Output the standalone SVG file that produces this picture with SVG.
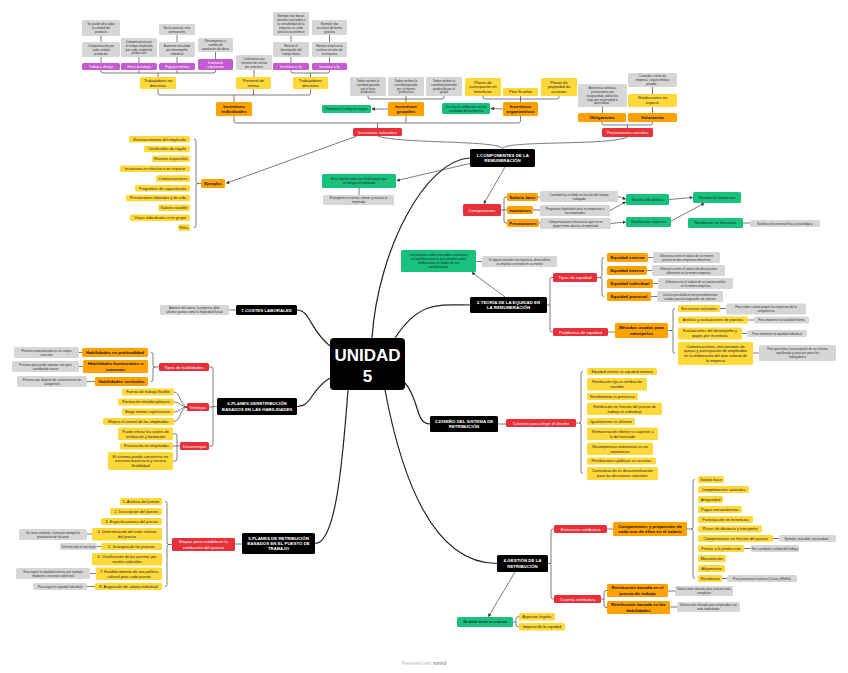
<svg xmlns="http://www.w3.org/2000/svg" width="848" height="673" viewBox="0 0 848 673">
<style>
text{font-family:"Liberation Sans",Arial,sans-serif;text-anchor:middle}
rect{rx:1.5px}
.g rect{fill:#d6d6d6}.g text{font-size:3.1px;fill:#333}
.y rect{fill:#ffd83a}.y text{font-size:3.9px;fill:#222}
.o rect{fill:#ffa200}.o text{font-size:4.4px;font-weight:bold;fill:#111}
.r rect{fill:#e8303a}.r text{font-size:4.3px;fill:#fff}
.k rect{fill:#000}.k text{font-size:4.4px;font-weight:bold;fill:#fff}
.gn rect{fill:#19c27c}.gn text{font-size:3.1px;fill:#123}
.gn2 rect{fill:#19c27c}.gn2 text{font-size:3.8px;fill:#123}
.p rect{fill:#c55bd0}.p text{font-size:3.1px;fill:#fff}
#conn path{fill:none;stroke:#444;stroke-width:0.7}
#conn .m{stroke:#222;stroke-width:1.2}
#conn .a{marker-end:url(#ar)}
</style>
<defs>
<marker id="ar" viewBox="0 0 6 6" refX="5" refY="3" markerWidth="3.5" markerHeight="3.5" markerUnits="userSpaceOnUse" orient="auto"><path d="M0,0 L6,3 L0,6 z" fill="#333"/></marker>
</defs>
<rect width="848" height="673" fill="#fff" rx="0"/>
<g id="conn">
<path class="m" d="M372,338 C378,250 425,160 470,158"/>
<path class="m" d="M395,338 C420,300 440,305 470,305"/>
<path class="m" d="M330,346 C310,330 310,310 297,310"/>
<path class="m" d="M330,378 C310,390 312,406.5 297,406.5"/>
<path class="m" d="M405,383 C420,400 415,424 430,424"/>
<path class="m" d="M348,390 C342,470 335,543.5 315,543.5"/>
<path class="m" d="M385,390 C400,470 430,563.5 497,563.5"/>
<path d="M502.5,149 C502.5,140 400,144 377.5,136"/>
<path d="M502.5,149 C502.5,140 610,146 627.5,137"/>
<path d="M101,36 V42 M101,57 V63 M139,57 V63 M177,35 V42 M177,57 V63 M215.5,52 V59 M291,36 V42 M291,57 V63 M329.5,35 V42 M329.5,57 V63"/>
<path d="M101,70 V71 Q101,73 103,73 H213.5 Q215.5,73 215.5,71 V70 M139,70 V73 M177,70 V73 M158,73 V77"/>
<path d="M291,70 V71 Q291,73 293,73 H327.5 Q329.5,73 329.5,71 V70 M310.5,73 V77 M254,70 V77"/>
<path d="M158,89 V93 Q158,95 160,95 H308.5 Q310.5,95 310.5,93 V89 M253.5,89 V95 M234,95 V102"/>
<path d="M368,96 V97 Q368,99 370,99 H442 Q444,99 444,97 V96 M406,96 V102"/>
<path d="M483,96 V97 Q483,99 485,99 H557 Q559,99 559,97 V96 M520.5,96 V102"/>
<path d="M234,116 V121 Q234,123 236,123 H518.5 Q520.5,123 520.5,121 V116 M406,116 V123 M377.5,123 V128"/>
<path d="M602.5,107 V113 M652.5,87 V94 M652.5,107 V113 M602,122 V123 Q602,125 604,125 H650.5 Q652.5,125 652.5,123 V122 M627.5,125 V128"/>
<path class="a" d="M388,109 L372,109"/>
<path class="a" d="M503,109 L491,108.5"/>
<path class="a" d="M357,136 L226.5,183.2"/>
<path d="M194,139.25 Q196,139.25 196,141.25 V181.5 Q196,183.5 198,183.5 Q196,183.5 196,185.5 V225.5 Q196,227.5 194,227.5 M198,183.5 H201"/>
<path class="a" d="M472,163 L397,180.5"/>
<path d="M359,188 V195"/>
<path class="a" d="M505,167 L484,203.5"/>
<path d="M507,197 H506 Q504,197 504,199 V221 Q504,223 506,223 H507 M501,210 H507 M538,197 H540 M533,210 H540 M539,223 H540"/>
<path class="a" d="M618,196.5 L625.5,199"/>
<path class="a" d="M610,210.5 L625.5,202"/>
<path class="a" d="M611,223.5 L625.5,222"/>
<path class="a" d="M669,199.5 L692.5,197.5"/>
<path class="a" d="M671,221 L704,203.5"/>
<path d="M743,223 H750"/>
<path class="a" d="M505,297 L472,272.5"/>
<path d="M476,261.5 H482"/>
<path d="M547,305 H550 M553,277.5 H552 Q550,277.5 550,279.5 V330 Q550,332 552,332 H553"/>
<path d="M604,257.5 Q602,257.5 602,259.5 V275.5 Q602,277.5 600,277.5 Q602,277.5 602,279.5 V294.5 Q602,296.5 604,296.5 M597,277.5 H600"/>
<path d="M648,257.5 H653 M647,270.5 H652 M653,283.5 H658 M651,296.5 H657"/>
<path d="M608,332 H615"/>
<path d="M675,308.5 Q673,308.5 673,310.5 V328.5 Q673,330.5 671,330.5 Q673,330.5 673,332.5 V351.5 Q673,353.5 675,353.5 M668,330.5 H671"/>
<path d="M720,308.5 H726 M748,320 H754 M742,333.5 H747 M753,353 H759"/>
<path d="M498,424 H506"/>
<path d="M583,371.5 Q581,371.5 581,373.5 V421 Q581,423 579,423 Q581,423 581,425 V471.5 Q581,473.5 583,473.5 M576,423 H579"/>
<path d="M548,563.5 H551 M554,529 H553 Q551,529 551,531 V597 Q551,599 553,599 H554"/>
<path d="M607,529 H613"/>
<path d="M695,479.5 Q693,479.5 693,481.5 V527 Q693,529 691,529 Q693,529 693,531 V576.5 Q693,578.5 695,578.5 M687,529 H691"/>
<path d="M773,538.5 H779 M744,548.5 H751 M722,578.5 H727"/>
<path d="M601,599 H604 M607,590.5 H606 Q604,590.5 604,592.5 V605.5 Q604,607.5 606,607.5 H607 M668,591 H675 M670,607 H677"/>
<path class="a" d="M515,572 L488.5,616.5"/>
<path d="M513,622 H516 M519,616.75 H518 Q516,616.75 516,618.75 V624.75 Q516,626.75 518,626.75 H519"/>
<path d="M235,544 H242"/>
<path d="M165,501.5 Q167,501.5 167,503.5 V542.5 Q167,544.5 169,544.5 Q167,544.5 167,546.5 V584.5 Q167,586.5 165,586.5 M172,544.5 H169"/>
<path d="M87,534 H92 M97,546.5 H101 M90,573.5 H96 M87,586.5 H95"/>
<path d="M217,406.5 H213 M209,367 H211 Q213,367 213,369 V444 Q213,446 211,446 H209 M213,407 H209"/>
<path d="M151,352.5 Q153,352.5 153,354.5 V365 Q153,367 155,367 Q153,367 153,369 V379.5 Q153,381.5 151,381.5 M159,367 H155"/>
<path d="M79,352.5 H82 M79,366.5 H83 M87,381.5 H95"/>
<path d="M187,407 C181,407 180,392 174,392 M187,407 C181,407 180,402 174,402 M187,407 C181,407 180,412 174,412 M187,407 C181,407 180,421.5 174,421.5"/>
<path d="M180,446 H177 M173,433.75 H175 Q177,433.75 177,435.75 V459 Q177,461 175,461 H173 M173,446 H177"/>
<path d="M229,310 H236"/>
</g>

<g id="unidad5" class="k"><rect x="330" y="338" width="75" height="52" style="rx:4px"/><text x="367.5" y="361" style="font-size:17px">UNIDAD</text><text x="367.5" y="382" style="font-size:17px">5</text></g>

<!-- top: incentivos individuales -->
<g id="n-desc" class="g"><rect x="82" y="20" width="38" height="16"/><text x="101" y="25.2"><tspan x="101">Se puede descuidar</tspan><tspan x="101" dy="3.9">la calidad del</tspan><tspan x="101" dy="3.9">producto</tspan></text></g>
<g id="n-cunidad" class="g"><rect x="82" y="42" width="38" height="15"/><text x="101" y="46.7"><tspan x="101">Compensación por</tspan><tspan x="101" dy="3.9">cada unidad</tspan><tspan x="101" dy="3.9">producida</tspan></text></g>
<g id="n-destajo" class="p"><rect x="82" y="63" width="38" height="7"/><text x="101" y="67.6">Trabajo a destajo</text></g>
<g id="n-ctiempo" class="g"><rect x="121" y="38" width="36" height="19"/><text x="139" y="42.75"><tspan x="139">Compensación por</tspan><tspan x="139" dy="3.9">el tiempo empleado</tspan><tspan x="139" dy="3.9">por cada unidad de</tspan><tspan x="139" dy="3.9">producción</tspan></text></g>
<g id="n-horas" class="p"><rect x="121" y="63" width="36" height="7"/><text x="139" y="67.6">Horas de trabajo</text></g>
<g id="n-puntual" class="g"><rect x="159" y="24" width="36" height="11"/><text x="177" y="28.65"><tspan x="177">No es puntual, sino</tspan><tspan x="177" dy="3.9">permanente</tspan></text></g>
<g id="n-aumento" class="g"><rect x="159" y="42" width="36" height="15"/><text x="177" y="46.7"><tspan x="177">Aumento vinculado</tspan><tspan x="177" dy="3.9">por desempeño</tspan><tspan x="177" dy="3.9">individual</tspan></text></g>
<g id="n-meritos" class="p"><rect x="159" y="63" width="36" height="7"/><text x="177" y="67.6">Pago por méritos</text></g>
<g id="n-recompensa" class="g"><rect x="198" y="38" width="35" height="14"/><text x="215.5" y="42.2"><tspan x="215.5">Recompensa a</tspan><tspan x="215.5" dy="3.9">cambio de</tspan><tspan x="215.5" dy="3.9">aportación de ideas</tspan></text></g>
<g id="n-sugerencias" class="p"><rect x="198" y="59" width="35" height="11"/><text x="215.5" y="63.65"><tspan x="215.5">Sistema de</tspan><tspan x="215.5" dy="3.9">sugerencias</tspan></text></g>
<g id="n-comisiones" class="g"><rect x="236" y="55" width="36" height="15"/><text x="254" y="59.7"><tspan x="254">Comisiones por</tspan><tspan x="254" dy="3.9">volumen de ventas</tspan><tspan x="254" dy="3.9">por intereses</tspan></text></g>
<g id="n-bonos" class="g"><rect x="273" y="12" width="36" height="24"/><text x="291" y="17.3"><tspan x="291">Ejemplo: dar bonos</tspan><tspan x="291" dy="3.9">anuales asociados a</tspan><tspan x="291" dy="3.9">la rentabilidad de la</tspan><tspan x="291" dy="3.9">empresa en cada</tspan><tspan x="291" dy="3.9">ejercicio económico</tspan></text></g>
<g id="n-motivard" class="g"><rect x="273" y="42" width="36" height="15"/><text x="291" y="46.7"><tspan x="291">Motivar el</tspan><tspan x="291" dy="3.9">desempeño del</tspan><tspan x="291" dy="3.9">trabajo diario</tspan></text></g>
<g id="n-icp" class="p"><rect x="273" y="63" width="36" height="7"/><text x="291" y="67.6">Incentivos a c/p</text></g>
<g id="n-acciones" class="g"><rect x="312" y="20" width="35" height="15"/><text x="329.5" y="24.7"><tspan x="329.5">Ejemplo: dar</tspan><tspan x="329.5" dy="3.9">acciones de forma</tspan><tspan x="329.5" dy="3.9">gratuita</tspan></text></g>
<g id="n-motivare" class="g"><rect x="312" y="42" width="35" height="15"/><text x="329.5" y="46.7"><tspan x="329.5">Motivar al ejecutivo</tspan><tspan x="329.5" dy="3.9">a elevar el valor de</tspan><tspan x="329.5" dy="3.9">la empresa</tspan></text></g>
<g id="n-ilp" class="p"><rect x="312" y="63" width="35" height="7"/><text x="329.5" y="67.6">Incentivos a l/p</text></g>
<g id="n-tnd" class="y"><rect x="140" y="77" width="36" height="12"/><text x="158" y="81.95"><tspan x="158">Trabajadores no</tspan><tspan x="158" dy="4.8">directivos</tspan></text></g>
<g id="n-pventas" class="y"><rect x="236" y="77" width="35" height="12"/><text x="253.5" y="81.95"><tspan x="253.5">Personal de</tspan><tspan x="253.5" dy="4.8">ventas</tspan></text></g>
<g id="n-td" class="y"><rect x="293" y="77" width="35" height="12"/><text x="310.5" y="81.95"><tspan x="310.5">Trabajadores</tspan><tspan x="310.5" dy="4.8">directivos</tspan></text></g>
<g id="n-iind" class="o"><rect x="216" y="102" width="36" height="14"/><text x="234" y="107.85"><tspan x="234">Incentivos</tspan><tspan x="234" dy="5.4">individuales</tspan></text></g>

<!-- grupales -->
<g id="n-gmas" class="g"><rect x="350" y="77" width="36" height="19"/><text x="368" y="81.75"><tspan x="368">Todos reciben la</tspan><tspan x="368" dy="3.9">cantidad ganada</tspan><tspan x="368" dy="3.9">por el más</tspan><tspan x="368" dy="3.9">productivo</tspan></text></g>
<g id="n-gmenos" class="g"><rect x="388" y="77" width="36" height="19"/><text x="406" y="81.75"><tspan x="406">Todos reciben la</tspan><tspan x="406" dy="3.9">cantidad ganada</tspan><tspan x="406" dy="3.9">por el menos</tspan><tspan x="406" dy="3.9">productivo</tspan></text></g>
<g id="n-gprom" class="g"><rect x="426" y="77" width="36" height="19"/><text x="444" y="81.75"><tspan x="444">Todos reciben la</tspan><tspan x="444" dy="3.9">cantidad promedio</tspan><tspan x="444" dy="3.9">producida por el</tspan><tspan x="444" dy="3.9">grupo</tspan></text></g>
<g id="n-igrup" class="o"><rect x="388" y="102" width="36" height="14"/><text x="406" y="107.85"><tspan x="406">Incentivos</tspan><tspan x="406" dy="5.4">grupales</tspan></text></g>
<g id="n-ggrup" class="gn"><rect x="322" y="105" width="49" height="8"/><text x="346.5" y="110.1">Fomentan el trabajo en equipo</text></g>

<!-- organizativos -->
<g id="n-ppb" class="y"><rect x="465" y="78" width="36" height="18"/><text x="483" y="83.55"><tspan x="483">Planes de</tspan><tspan x="483" dy="4.8">participación en</tspan><tspan x="483" dy="4.8">beneficios</tspan></text></g>
<g id="n-scanlon" class="y"><rect x="503" y="88" width="35" height="8"/><text x="520.5" y="93.35">Plan Scanlon</text></g>
<g id="n-ppa" class="y"><rect x="541" y="78" width="36" height="18"/><text x="559" y="83.55"><tspan x="559">Planes de</tspan><tspan x="559" dy="4.8">propiedad de</tspan><tspan x="559" dy="4.8">acciones</tspan></text></g>
<g id="n-iorg" class="o"><rect x="503" y="102" width="35" height="14"/><text x="520.5" y="107.85"><tspan x="520.5">Incentivos</tspan><tspan x="520.5" dy="5.4">organizativos</tspan></text></g>
<g id="n-gorg" class="gn"><rect x="442" y="103" width="48" height="11"/><text x="466" y="107.65"><tspan x="466">Vinculan la retribución con los</tspan><tspan x="466" dy="3.9">resultados de la empresa</tspan></text></g>

<!-- prestaciones -->
<g id="n-asist" class="g"><rect x="578" y="84" width="49" height="23"/><text x="602.5" y="88.8"><tspan x="602.5">Asistencia sanitaria,</tspan><tspan x="602.5" dy="3.9">prestaciones por</tspan><tspan x="602.5" dy="3.9">incapacidad, jubilación,</tspan><tspan x="602.5" dy="3.9">baja por maternidad o</tspan><tspan x="602.5" dy="3.9">paternidad...</tspan></text></g>
<g id="n-comedor" class="g"><rect x="628" y="73" width="49" height="14"/><text x="652.5" y="77.2"><tspan x="652.5">Comedor, coche de</tspan><tspan x="652.5" dy="3.9">empresa, seguro médico</tspan><tspan x="652.5" dy="3.9">privado...</tspan></text></g>
<g id="n-especie" class="y"><rect x="628" y="94" width="49" height="13"/><text x="652.5" y="99.45"><tspan x="652.5">Retribuciones en</tspan><tspan x="652.5" dy="4.8">especie</tspan></text></g>
<g id="n-oblig" class="o"><rect x="578" y="113" width="48" height="9"/><text x="602" y="119.05">Obligatorias</text></g>
<g id="n-volunt" class="o"><rect x="628" y="113" width="49" height="9"/><text x="652.5" y="119.05">Voluntarias</text></g>
<g id="n-prest" class="r"><rect x="602" y="128" width="51" height="9"/><text x="627.5" y="134">Prestaciones sociales</text></g>
<g id="n-isal" class="r"><rect x="353" y="128" width="49" height="8"/><text x="377.5" y="133.5">Incentivos salariales</text></g>

<!-- ejemplos -->
<g id="n-ejemplos" class="o"><rect x="201" y="179" width="24" height="9"/><text x="213" y="185" style="font-size:3.9px">Ejemplos</text></g>
<g id="e1" class="y"><rect x="129" y="136" width="61" height="6.5"/><text x="159.5" y="140.6">Reconocimiento del empleado</text></g>
<g id="e2" class="y"><rect x="144" y="145.8" width="46" height="6.5"/><text x="167" y="150.4">Certificados de regalo</text></g>
<g id="e3" class="y"><rect x="152" y="155.6" width="38" height="6.5"/><text x="171" y="160.2">Eventos especiales</text></g>
<g id="e4" class="y"><rect x="120" y="165.4" width="70" height="6.5"/><text x="155" y="170">Incentivos en efectivo o en especie</text></g>
<g id="e5" class="y"><rect x="156" y="175.2" width="34" height="6.5"/><text x="173" y="179.8">Comunicaciones</text></g>
<g id="e6" class="y"><rect x="135" y="185" width="55" height="6.5"/><text x="162.5" y="189.6">Programas de capacitación</text></g>
<g id="e7" class="y"><rect x="126" y="194.8" width="64" height="6.5"/><text x="158" y="199.4">Prestaciones laborales y de vida</text></g>
<g id="e8" class="y"><rect x="158" y="204.6" width="32" height="6.5"/><text x="174" y="209.2">Salario variable</text></g>
<g id="e9" class="y"><rect x="130" y="214.4" width="60" height="6.5"/><text x="160" y="219">Viajes individuales o en grupo</text></g>
<g id="e10" class="y"><rect x="178" y="224.2" width="12" height="6.5"/><text x="184" y="228.8">Rifas</text></g>

<!-- 1 componentes -->
<g id="n-1" class="k"><rect x="470" y="149" width="65" height="18"/><text x="502.5" y="156.85"><tspan x="502.5">1-COMPONENTES DE LA</tspan><tspan x="502.5" dy="5.4">REMUNERACIÓN</tspan></text></g>
<g id="n-total" class="gn"><rect x="322" y="174" width="74" height="14"/><text x="359" y="180.15"><tspan x="359">Es el total de todas las retribuciones que</tspan><tspan x="359" dy="3.9">se otorgan al empleado</tspan></text></g>
<g id="n-proposito" class="g"><rect x="323" y="195" width="71" height="10"/><text x="358.5" y="199.15"><tspan x="358.5">El propósito es atraer, retener y motivar al</tspan><tspan x="358.5" dy="3.9">empleado</tspan></text></g>
<g id="n-comp" class="r"><rect x="463" y="204" width="38" height="12"/><text x="482" y="211.5">Componentes</text></g>
<g id="n-sbase" class="o"><rect x="507" y="193" width="31" height="8"/><text x="522.5" y="198.55">Salario base</text></g>
<g id="n-incent" class="o"><rect x="507" y="206" width="26" height="8"/><text x="520" y="211.55">Incentivos</text></g>
<g id="n-prestac" class="o"><rect x="507" y="219" width="32" height="8"/><text x="523" y="224.55">Prestaciones</text></g>
<g id="n-cfija" class="g"><rect x="540" y="191" width="78" height="11"/><text x="579" y="195.65"><tspan x="579">Cantidad fija recibida en función del tiempo</tspan><tspan x="579" dy="3.9">trabajado</tspan></text></g>
<g id="n-progr" class="g"><rect x="540" y="205" width="70" height="11"/><text x="575" y="209.65"><tspan x="575">Programas diseñados para recompensar a</tspan><tspan x="575" dy="3.9">los empleados</tspan></text></g>
<g id="n-compf" class="g"><rect x="540" y="218" width="71" height="11"/><text x="575.5" y="222.65"><tspan x="575.5">Compensaciones financieras que no se</tspan><tspan x="575.5" dy="3.9">pagan forma directa al empleado</tspan></text></g>
<g id="n-rdir" class="gn2"><rect x="626" y="194" width="43" height="11"/><text x="647.5" y="200.8">Retribución directa</text></g>
<g id="n-rfin" class="gn2"><rect x="693" y="192" width="48" height="11"/><text x="717" y="198.8">Retribución financiera</text></g>
<g id="n-rind" class="gn2"><rect x="626" y="217" width="45" height="10"/><text x="648.5" y="223.3">Retribución indirecta</text></g>
<g id="n-rnofin" class="gn2"><rect x="688" y="218" width="55" height="10"/><text x="715.5" y="224.3">Retribución no financiera</text></g>
<g id="n-satisf" class="g"><rect x="750" y="220" width="70" height="7"/><text x="785" y="224.6">Satisfacción personal física y psicológica</text></g>

<!-- 2 teoria -->
<g id="n-2" class="k"><rect x="470" y="297" width="77" height="16"/><text x="508.5" y="303.85"><tspan x="508.5">2-TEORÍA DE LA EQUIDAD EN</tspan><tspan x="508.5" dy="5.4">LA REMUNERACIÓN</tspan></text></g>
<g id="n-personas" class="gn"><rect x="401" y="250" width="75" height="22"/><text x="438.5" y="256.25"><tspan x="438.5">Las personas están motivadas a mantener</tspan><tspan x="438.5" dy="3.9">un equilibrio entre lo que perciben como</tspan><tspan x="438.5" dy="3.9">retribuciones a cambio de sus</tspan><tspan x="438.5" dy="3.9">contribuciones</tspan></text></g>
<g id="n-injusticia" class="g"><rect x="482" y="256" width="75" height="11"/><text x="519.5" y="260.65"><tspan x="519.5">Si alguien percibe una injusticia, desarrollará</tspan><tspan x="519.5" dy="3.9">un impulso o tensión en su mente</tspan></text></g>
<g id="n-tipeq" class="r"><rect x="553" y="273" width="44" height="9"/><text x="575" y="279">Tipos de equidad</text></g>
<g id="n-probeq" class="r"><rect x="553" y="328" width="55" height="8"/><text x="580.5" y="333.5">Problemas de equidad</text></g>
<g id="n-eext" class="o"><rect x="607" y="253" width="41" height="9"/><text x="627.5" y="259.05">Equidad externa</text></g>
<g id="n-eint" class="o"><rect x="607" y="266" width="40" height="9"/><text x="627" y="272.05">Equidad interna</text></g>
<g id="n-eind" class="o"><rect x="607" y="279" width="46" height="9"/><text x="630" y="285.05">Equidad individual</text></g>
<g id="n-eproc" class="o"><rect x="607" y="292" width="44" height="9"/><text x="629" y="298.05">Equidad procesal</text></g>
<g id="n-d1" class="g"><rect x="653" y="252" width="67" height="11"/><text x="686.5" y="256.65"><tspan x="686.5">Diferencia entre el salario de un mismo</tspan><tspan x="686.5" dy="3.9">puesto en dos empresas diferentes</tspan></text></g>
<g id="n-d2" class="g"><rect x="652" y="265" width="73" height="11"/><text x="688.5" y="269.65"><tspan x="688.5">Diferencia entre el salario de dos puestos</tspan><tspan x="688.5" dy="3.9">diferentes en la misma empresa</tspan></text></g>
<g id="n-d3" class="g"><rect x="658" y="278" width="75" height="11"/><text x="695.5" y="282.65"><tspan x="695.5">Diferencia en el salario de un puesto similar</tspan><tspan x="695.5" dy="3.9">en la misma empresa</tspan></text></g>
<g id="n-d4" class="g"><rect x="657" y="291" width="66" height="11"/><text x="690" y="295.65"><tspan x="690">Justicia percibida en los procedimientos</tspan><tspan x="690" dy="3.9">usados para la asignación de salarios</tspan></text></g>
<g id="n-metodos" class="o"><rect x="615" y="323" width="53" height="15"/><text x="641.5" y="329.35"><tspan x="641.5">Métodos usados para</tspan><tspan x="641.5" dy="5.4">manejarlos</tspan></text></g>
<g id="n-m1" class="y"><rect x="678" y="305" width="42" height="7"/><text x="699" y="309.85">Encuestas salariales</text></g>
<g id="n-m2" class="y"><rect x="678" y="316.5" width="70" height="7"/><text x="713" y="321.35">Análisis y evaluaciones de puestos</text></g>
<g id="n-m3" class="y"><rect x="678" y="327.5" width="64" height="12"/><text x="710" y="332.45"><tspan x="710">Evaluaciones del desempeño y</tspan><tspan x="710" dy="4.8">pagos por incentivos</tspan></text></g>
<g id="n-m4" class="y"><rect x="678" y="342" width="75" height="23"/><text x="715.5" y="347.65"><tspan x="715.5">Comunicaciones, mecanismos de</tspan><tspan x="715.5" dy="4.8">quejas y participación de empleados</tspan><tspan x="715.5" dy="4.8">en la elaboración del plan salarial de</tspan><tspan x="715.5" dy="4.8">la empresa</tspan></text></g>
<g id="n-p1" class="g"><rect x="726" y="303.5" width="80" height="11"/><text x="766" y="308.15"><tspan x="766">Para saber cuánto pagan las empresas de la</tspan><tspan x="766" dy="3.9">competencia</tspan></text></g>
<g id="n-p2" class="g"><rect x="754" y="316.5" width="55" height="7"/><text x="781.5" y="321.1">Para mantener la equidad interna</text></g>
<g id="n-p3" class="g"><rect x="747" y="330" width="60" height="7"/><text x="777" y="334.6">Para mantener la equidad individual</text></g>
<g id="n-p4" class="g"><rect x="759" y="345" width="77" height="16"/><text x="797.5" y="350.2"><tspan x="797.5">Para garantizar la percepción de un sistema</tspan><tspan x="797.5" dy="3.9">equilibrado y justo por parte los</tspan><tspan x="797.5" dy="3.9">trabajadores</tspan></text></g>

<!-- 3 diseño -->
<g id="n-3" class="k"><rect x="430" y="416" width="68" height="16"/><text x="464" y="422.85"><tspan x="464">3-DISEÑO DEL SISTEMA DE</tspan><tspan x="464" dy="5.4">RETRIBUCIÓN</tspan></text></g>
<g id="n-criterios" class="r"><rect x="506" y="419" width="70" height="8"/><text x="541" y="424.5">Criterios para elegir el diseño</text></g>
<g id="c1" class="y"><rect x="587" y="368" width="70" height="7"/><text x="622" y="372.85">Equidad interna vs equidad externa</text></g>
<g id="c2" class="y"><rect x="587" y="378" width="60" height="12.5"/><text x="617" y="383.2"><tspan x="617">Retribución fija vs retribución</tspan><tspan x="617" dy="4.8">variable</tspan></text></g>
<g id="c3" class="y"><rect x="587" y="393" width="51" height="7"/><text x="612.5" y="397.85">Rendimiento vs presencia</text></g>
<g id="c4" class="y"><rect x="587" y="402.5" width="75" height="12.5"/><text x="624.5" y="407.7"><tspan x="624.5">Retribución en función del puesto de</tspan><tspan x="624.5" dy="4.8">trabajo vs individual</tspan></text></g>
<g id="c5" class="y"><rect x="587" y="418" width="48" height="7"/><text x="611" y="422.85">Igualitarismo vs elitismo</text></g>
<g id="c6" class="y"><rect x="587" y="427.5" width="71" height="12.5"/><text x="622.5" y="432.7"><tspan x="622.5">Remuneración inferior vs superior a</tspan><tspan x="622.5" dy="4.8">la del mercado</tspan></text></g>
<g id="c7" class="y"><rect x="587" y="442.5" width="66" height="12.5"/><text x="620" y="447.7"><tspan x="620">Recompensas monetarias vs no</tspan><tspan x="620" dy="4.8">monetarias</tspan></text></g>
<g id="c8" class="y"><rect x="587" y="457.5" width="69" height="7"/><text x="621.5" y="462.35">Retribuciones públicas vs secretas</text></g>
<g id="c9" class="y"><rect x="587" y="467" width="71" height="13"/><text x="622.5" y="472.45"><tspan x="622.5">Centralización vs descentralización</tspan><tspan x="622.5" dy="4.8">para las decisiones salariales</tspan></text></g>

<!-- 4 gestion -->
<g id="n-4" class="k"><rect x="497" y="555" width="51" height="17"/><text x="522.5" y="562.35"><tspan x="522.5">4-GESTIÓN DE LA</tspan><tspan x="522.5" dy="5.4">RETRIBUCIÓN</tspan></text></g>
<g id="n-estr" class="r"><rect x="554" y="525" width="53" height="8"/><text x="580.5" y="530.5">Estructura retributiva</text></g>
<g id="n-cuant" class="r"><rect x="554" y="595" width="47" height="8"/><text x="577.5" y="600.5">Cuantía retributiva</text></g>
<g id="n-compprop" class="o"><rect x="613" y="522" width="74" height="14"/><text x="650" y="527.85"><tspan x="650">Componentes y proporción de</tspan><tspan x="650" dy="5.4">cada uno de ellos en el salario</tspan></text></g>
<g id="s1" class="y"><rect x="698" y="476" width="26" height="7"/><text x="711" y="480.85">Salario base</text></g>
<g id="s2" class="y"><rect x="698" y="486" width="51" height="7"/><text x="723.5" y="490.85">Complementos salariales</text></g>
<g id="s3" class="y"><rect x="698" y="496" width="25" height="7"/><text x="710.5" y="500.85">Antigüedad</text></g>
<g id="s4" class="y"><rect x="698" y="506" width="44" height="7"/><text x="720" y="510.85">Pagas extraordinarias</text></g>
<g id="s5" class="y"><rect x="698" y="516" width="55" height="7"/><text x="725.5" y="520.85">Participación en beneficios</text></g>
<g id="s6" class="y"><rect x="698" y="525.5" width="64" height="7"/><text x="730" y="530.35">Pluses de distancia y transporte</text></g>
<g id="s7" class="y"><rect x="698" y="535" width="75" height="7"/><text x="735.5" y="539.85">Complementos en función del puesto</text></g>
<g id="s8" class="y"><rect x="698" y="545" width="46" height="7"/><text x="721" y="549.85">Primas a la producción</text></g>
<g id="s9" class="y"><rect x="698" y="555" width="28" height="7"/><text x="712" y="559.85">Manutención</text></g>
<g id="s10" class="y"><rect x="698" y="565" width="27" height="7"/><text x="711.5" y="569.85">Alojamiento</text></g>
<g id="s11" class="y"><rect x="698" y="575" width="24" height="7"/><text x="710" y="579.85">Residencia</text></g>
<g id="n-toxic" class="g"><rect x="779" y="535" width="57" height="7"/><text x="807.5" y="539.6">Ejemplo: toxicidad, nocturnidad...</text></g>
<g id="n-cantcal" class="g"><rect x="751" y="545" width="48" height="7"/><text x="775" y="549.6">Por cantidad o calidad del trabajo</text></g>
<g id="n-insul" class="g"><rect x="727" y="575" width="70" height="7"/><text x="762" y="579.6">Para provincias insulares (Ceuta y Melilla)</text></g>
<g id="n-rbp" class="o"><rect x="607" y="584" width="61" height="13"/><text x="637.5" y="589.35"><tspan x="637.5">Retribución basada en el</tspan><tspan x="637.5" dy="5.4">puesto de trabajo</tspan></text></g>
<g id="n-rbh" class="o"><rect x="607" y="601" width="63" height="13"/><text x="638.5" y="606.35"><tspan x="638.5">Retribución basada en las</tspan><tspan x="638.5" dy="5.4">habilidades</tspan></text></g>
<g id="n-smp" class="g"><rect x="675" y="586" width="58" height="10"/><text x="704" y="590.15"><tspan x="704">Salario más elevado para puestos más</tspan><tspan x="704" dy="3.9">complejos</tspan></text></g>
<g id="n-smh" class="g"><rect x="677" y="602" width="63" height="10"/><text x="708.5" y="606.15"><tspan x="708.5">Salario más elevado para empleados con</tspan><tspan x="708.5" dy="3.9">más habilidades</tspan></text></g>
<g id="n-tener" class="gn2"><rect x="457" y="617" width="56" height="10"/><text x="485" y="623.3" style="font-weight:bold">Se debe tener en cuenta</text></g>
<g id="n-legal" class="y"><rect x="519" y="613" width="36" height="7.5"/><text x="537" y="618.1">Aspectos legales</text></g>
<g id="n-impacto" class="y"><rect x="519" y="623" width="46" height="7.5"/><text x="542" y="628.1">Impacto de la equidad</text></g>

<!-- 5 planes puesto -->
<g id="n-5" class="k"><rect x="242" y="533" width="73" height="21"/><text x="278.5" y="539.65"><tspan x="278.5">5-PLANES DE RETRIBUCIÓN</tspan><tspan x="278.5" dy="5.4">BASADOS EN EL PUESTO DE</tspan><tspan x="278.5" dy="5.4">TRABAJO</tspan></text></g>
<g id="n-etapas" class="r"><rect x="172" y="538" width="63" height="13"/><text x="203.5" y="543.4"><tspan x="203.5">Etapas para establecer la</tspan><tspan x="203.5" dy="5.2">retribución del puesto</tspan></text></g>
<g id="t1" class="y"><rect x="120" y="498" width="42" height="7"/><text x="141" y="502.85">1. Análisis del puesto</text></g>
<g id="t2" class="y"><rect x="110" y="508" width="52" height="7"/><text x="136" y="512.85">2. Descripción del puesto</text></g>
<g id="t3" class="y"><rect x="101" y="518" width="61" height="7"/><text x="131.5" y="522.85">3. Especificaciones del puesto</text></g>
<g id="t4" class="y"><rect x="92" y="528" width="70" height="12.5"/><text x="127" y="533.2"><tspan x="127">4. Determinación del valor relativo</tspan><tspan x="127" dy="4.8">del puesto</tspan></text></g>
<g id="t5" class="y"><rect x="101" y="543" width="61" height="7"/><text x="131.5" y="547.85">5. Jerarquía de los puestos</text></g>
<g id="t6" class="y"><rect x="92" y="553" width="70" height="12.5"/><text x="127" y="558.2"><tspan x="127">6. Clasificación de los puestos por</tspan><tspan x="127" dy="4.8">niveles salariales</tspan></text></g>
<g id="t7" class="y"><rect x="96" y="567.5" width="66" height="12.5"/><text x="129" y="572.7"><tspan x="129">7. Establecimiento de una política</tspan><tspan x="129" dy="4.8">salarial para cada puesto</tspan></text></g>
<g id="t8" class="y"><rect x="95" y="583" width="67" height="7"/><text x="128.5" y="587.85">8. Asignación de salario individual</text></g>
<g id="n-sistemas" class="g"><rect x="19" y="529" width="68" height="11"/><text x="53" y="533.65"><tspan x="53">Se usan sistemas, como por ejemplo la</tspan><tspan x="53" dy="3.9">puntuación de factores</tspan></text></g>
<g id="n-alto" class="g"><rect x="60" y="543" width="37" height="7"/><text x="78.5" y="547.6">Del más alto al más bajo</text></g>
<g id="n-lext" class="g"><rect x="16" y="568" width="74" height="11"/><text x="53" y="572.65"><tspan x="53">Para lograr la equidad externa, por ejemplo</tspan><tspan x="53" dy="3.9">mediante convenios colectivos</tspan></text></g>
<g id="n-lind" class="g"><rect x="33" y="583" width="54" height="7"/><text x="60" y="587.6">Para lograr la equidad individual</text></g>

<!-- 6 planes habilidades -->
<g id="n-6" class="k"><rect x="217" y="398" width="80" height="17"/><text x="257" y="405.35"><tspan x="257">6-PLANES DERETRIBUCIÓN</tspan><tspan x="257" dy="5.4">BASADOS EN LAS HABILIDADES</tspan></text></g>
<g id="n-tiphab" class="r"><rect x="159" y="363" width="50" height="8"/><text x="184" y="368.5">Tipos de habilidades</text></g>
<g id="n-vent" class="r"><rect x="187" y="403" width="22" height="8"/><text x="198" y="408.5">Ventajas</text></g>
<g id="n-desv" class="r"><rect x="180" y="442" width="29" height="8"/><text x="194.5" y="447.5">Desventajas</text></g>
<g id="n-hprof" class="o"><rect x="82" y="348" width="66" height="9"/><text x="115" y="354.05">Habilidades en profundidad</text></g>
<g id="n-hhor" class="o"><rect x="83" y="360" width="65" height="13"/><text x="115.5" y="365.35"><tspan x="115.5">Habilidades horizontales o</tspan><tspan x="115.5" dy="5.4">extensas</tspan></text></g>
<g id="n-hvert" class="o"><rect x="95" y="377" width="53" height="9"/><text x="121.5" y="383.05">Habilidades verticales</text></g>
<g id="n-pesp" class="g"><rect x="14" y="347" width="65" height="11"/><text x="46.5" y="351.65"><tspan x="46.5">Persona especializada en un campo</tspan><tspan x="46.5" dy="3.9">concreto</tspan></text></g>
<g id="n-psop" class="g"><rect x="12" y="361" width="67" height="11"/><text x="45.5" y="365.65"><tspan x="45.5">Persona que puede soportar una gran</tspan><tspan x="45.5" dy="3.9">cantidad de tareas</tspan></text></g>
<g id="n-pdisp" class="g"><rect x="17" y="376" width="70" height="11"/><text x="52" y="380.65"><tspan x="52">Persona que dispone de conocimientos de</tspan><tspan x="52" dy="3.9">autogestión</tspan></text></g>
<g id="v1" class="y"><rect x="122" y="388.5" width="52" height="7"/><text x="148" y="393.35">Fuerza de trabajo flexible</text></g>
<g id="v2" class="y"><rect x="118" y="398.5" width="56" height="7"/><text x="146" y="403.35">Formación interdisciplinaria</text></g>
<g id="v3" class="y"><rect x="122" y="408.5" width="52" height="7"/><text x="148" y="413.35">Exige menos supervisores</text></g>
<g id="v4" class="y"><rect x="103" y="418" width="71" height="7"/><text x="138.5" y="422.85">Mejora el control de los empleados</text></g>
<g id="dv1" class="y"><rect x="118" y="427.5" width="55" height="12.5"/><text x="145.5" y="432.7"><tspan x="145.5">Puede elevar los costes de</tspan><tspan x="145.5" dy="4.8">retribución y formación</tspan></text></g>
<g id="dv2" class="y"><rect x="120" y="442.5" width="53" height="7"/><text x="146.5" y="447.35">Frustración en empleados</text></g>
<g id="dv3" class="y"><rect x="108" y="452" width="65" height="18"/><text x="140.5" y="457.55"><tspan x="140.5">El sistema puede convertirse en</tspan><tspan x="140.5" dy="4.8">excesiva burocracia y escasa</tspan><tspan x="140.5" dy="4.8">flexibilidad</tspan></text></g>

<!-- 7 costes -->
<g id="n-7" class="k"><rect x="236" y="305" width="61" height="10"/><text x="266.5" y="311.55">7-COSTES LABORALES</text></g>
<g id="n-ss" class="g"><rect x="160" y="305" width="69" height="10"/><text x="194.5" y="309.15"><tspan x="194.5">Además del salario, la empresa debe</tspan><tspan x="194.5" dy="3.9">afrontar gastos como la Seguridad Social</tspan></text></g>

<text x="424" y="665" style="font-size:4.5px;fill:#bbb">Presented with <tspan style="font-weight:bold;fill:#999">xmind</tspan></text>
</svg>
